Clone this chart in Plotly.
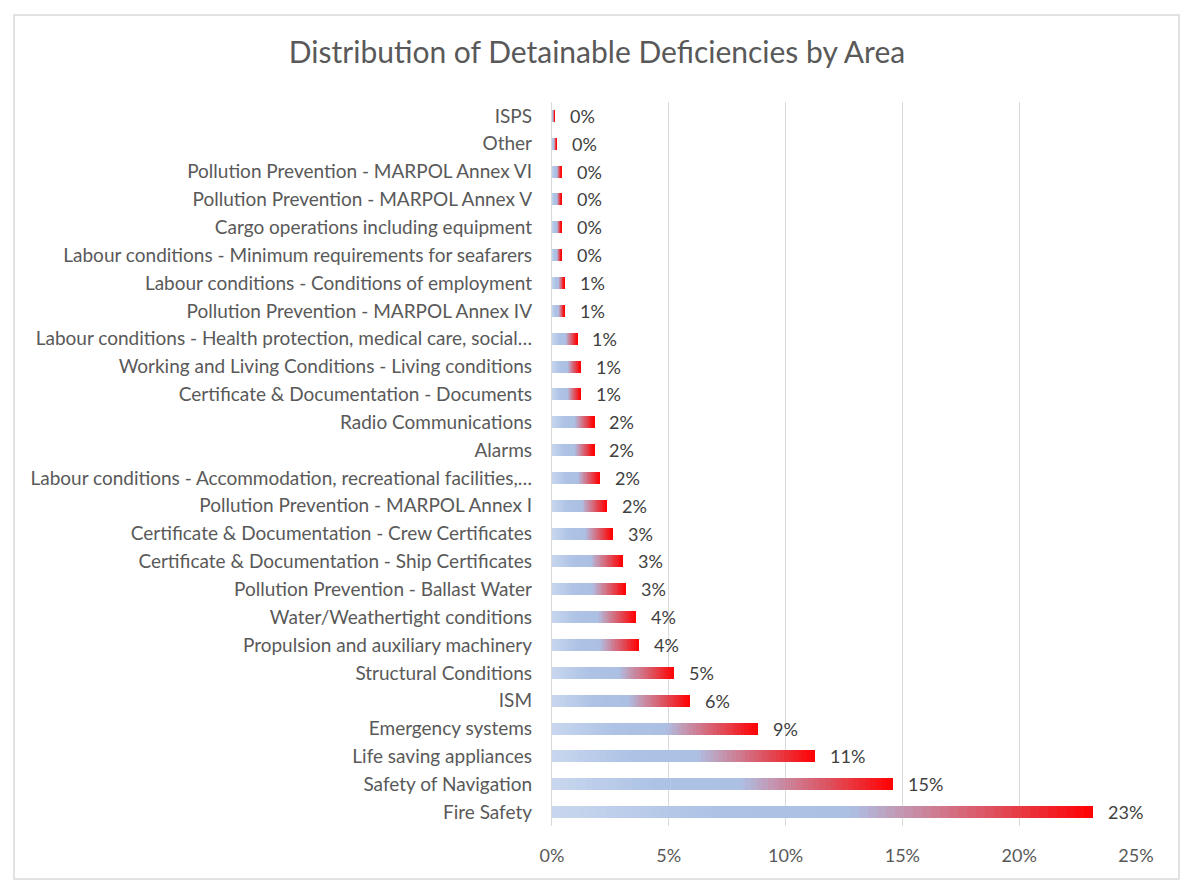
import plotly.graph_objects as go

# ---------------- data ----------------
categories = [
    "ISPS",
    "Other",
    "Pollution Prevention - MARPOL Annex VI",
    "Pollution Prevention - MARPOL Annex V",
    "Cargo operations including equipment",
    "Labour conditions - Minimum requirements for seafarers",
    "Labour conditions - Conditions of employment",
    "Pollution Prevention - MARPOL Annex IV",
    "Labour conditions - Health protection, medical care, social…",
    "Working and Living Conditions - Living conditions",
    "Certificate & Documentation - Documents",
    "Radio Communications",
    "Alarms",
    "Labour conditions - Accommodation, recreational facilities,…",
    "Pollution Prevention - MARPOL Annex I",
    "Certificate & Documentation - Crew Certificates",
    "Certificate & Documentation - Ship Certificates",
    "Pollution Prevention - Ballast Water",
    "Water/Weathertight conditions",
    "Propulsion and auxiliary machinery",
    "Structural Conditions",
    "ISM",
    "Emergency systems",
    "Life saving appliances",
    "Safety of Navigation",
    "Fire Safety",
]
values_pct = [
    0.12, 0.2, 0.41, 0.41, 0.41, 0.41, 0.54, 0.54, 1.09, 1.22, 1.22,
    1.8, 1.8, 2.05, 2.35, 2.6, 3.04, 3.17, 3.6, 3.73, 5.23, 5.91,
    8.82, 11.26, 14.6, 23.17,
]
x_ticks = [0, 5, 10, 15, 20, 25]
x_tick_labels = ["0%", "5%", "10%", "15%", "20%", "25%"]
title_text = "Distribution of Detainable Deficiencies by Area"

# ---------------- style ----------------
OFF = 8  # page body margin
W, H = 1195 - OFF, 891 - OFF
ML, MT = 552 - OFF, 102 - OFF
MR = W - (1136 - OFF)
MB = H - (826 - OFF)
FONT = "Lato, Calibri, Carlito, sans-serif"
TXT = "#595959"

grad_stops = [
    (0.00, (200, 215, 238)),
    (0.30, (173, 194, 229)),
    (0.55, (172, 192, 228)),
    (0.65, (196, 148, 175)),
    (0.80, (220, 86, 100)),
    (1.00, (255, 0, 0)),
]


def grad_color(t):
    for (t0, c0), (t1, c1) in zip(grad_stops[:-1], grad_stops[1:]):
        if t0 <= t <= t1:
            f = (t - t0) / (t1 - t0) if t1 > t0 else 0
            return "rgb(%d,%d,%d)" % tuple(round(a + (b - a) * f) for a, b in zip(c0, c1))
    return "rgb(255,0,0)"


N_SEG = 60
fig = go.Figure()
for k in range(N_SEG):
    fig.add_trace(go.Bar(
        y=categories,
        x=[v / N_SEG for v in values_pct],
        orientation="h",
        marker=dict(color=grad_color((k + 0.5) / N_SEG), line=dict(width=0)),
        showlegend=False,
        hoverinfo="skip",
    ))

# data labels
for cat, v in zip(categories, values_pct):
    fig.add_annotation(
        x=v, y=cat, xref="x", yref="y",
        text=f"{v:.0f}%", showarrow=False,
        xanchor="left", yanchor="middle", xshift=13,
        font=dict(family=FONT, size=18, color="#404040"),
    )

pw = W - ML - MR
ph = H - MT - MB
# chart-area border
fig.add_shape(
    type="rect", xref="paper", yref="paper",
    x0=(14 - OFF - ML) / pw, x1=(1179 - OFF - ML) / pw,
    y0=(H - (879 - OFF) - MB) / ph, y1=(H - (15 - OFF) - MB) / ph,
    line=dict(color="#d9d9d9", width=1.5), layer="below",
)

fig.update_layout(
    width=W, height=H,
    margin=dict(l=ML, r=MR, t=MT, b=MB, autoexpand=False),
    barmode="stack",
    bargap=0.57,
    paper_bgcolor="white",
    plot_bgcolor="white",
    title=dict(
        text=title_text, x=(597 - OFF) / W, xref="container", xanchor="center",
        y=1 - (52 - OFF) / H, yanchor="middle", yref="container",
        font=dict(family=FONT, size=30, color=TXT),
    ),
    font=dict(family=FONT, color=TXT),
    xaxis=dict(
        range=[0, 25], tickvals=x_ticks, ticktext=x_tick_labels,
        showgrid=True, gridcolor="#d9d9d9", gridwidth=1.3,
        zeroline=False, showline=False,
        tickfont=dict(family=FONT, size=18, color=TXT),
        ticklabelstandoff=17, automargin=False,
    ),
    yaxis=dict(
        autorange="reversed", type="category",
        showgrid=False, zeroline=False,
        showline=True, linecolor="#d9d9d9", linewidth=1.3,
        tickfont=dict(family=FONT, size=19, color=TXT),
        ticklabelstandoff=15, automargin=False,
    ),
)

fig.write_html("out.html")
